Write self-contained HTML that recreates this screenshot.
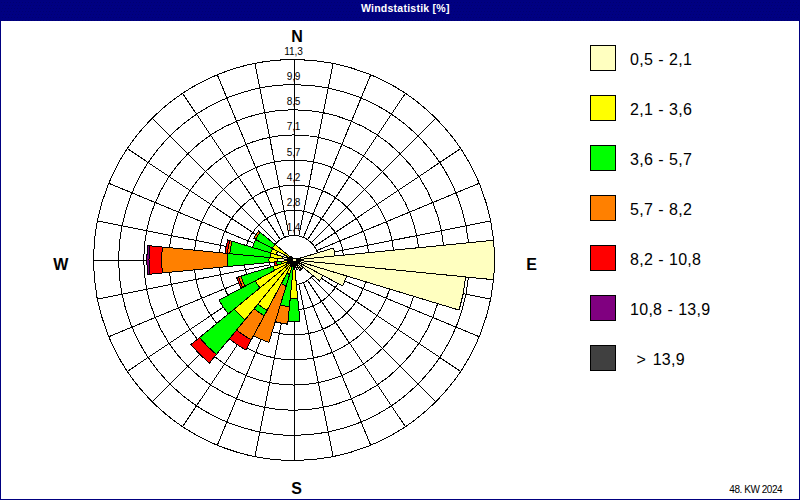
<!DOCTYPE html>
<html><head><meta charset="utf-8"><title>Windstatistik [%]</title>
<style>
html,body{margin:0;padding:0;background:#fff;}
body{width:800px;height:500px;overflow:hidden;}
svg{display:block;font-family:"Liberation Sans",sans-serif;}
.t10{font-size:10.1px;fill:#000;letter-spacing:-0.1px;}
.dir{font-size:16px;font-weight:bold;fill:#000;}
.leg{font-size:16px;fill:#000;letter-spacing:0.25px;word-spacing:0.5px;}
</style></head><body>
<svg width="800" height="500" viewBox="0 0 800 500">
<rect x="0" y="0" width="800" height="500" fill="#fff"/>
<defs><pattern id="dz" width="3" height="9" patternUnits="userSpaceOnUse"><rect width="3" height="9" fill="#000082"/><rect x="1" y="2" width="1" height="1" fill="#000070"/><rect x="0" y="5" width="1" height="1" fill="#000070"/><rect x="2" y="8" width="1" height="1" fill="#000070"/></pattern></defs>
<rect x="0" y="0" width="800" height="21" fill="url(#dz)" shape-rendering="crispEdges"/>
<rect x="0.5" y="0.5" width="799" height="499" fill="none" stroke="#000080" stroke-width="1"/>
<text x="405.3" y="11.8" text-anchor="middle" font-size="10.5" font-weight="bold" fill="#fff" letter-spacing="0.25">Windstatistik [%]</text>
<g shape-rendering="crispEdges">
<g fill="none" stroke="#000" stroke-width="1">
<circle cx="294" cy="260" r="24.50"/>
<circle cx="294" cy="260" r="49.64"/>
<circle cx="294" cy="260" r="74.78"/>
<circle cx="294" cy="260" r="99.92"/>
<circle cx="294" cy="260" r="125.06"/>
<circle cx="294" cy="260" r="150.20"/>
<circle cx="294" cy="260" r="175.34"/>
<circle cx="294" cy="260" r="200.48"/>
<path d="M294.0,235.5 L294.0,59.5 M298.8,236.0 L333.1,63.4 M303.4,237.4 L370.7,74.8 M307.6,239.6 L405.4,93.3 M311.3,242.7 L435.8,118.2 M314.4,246.4 L460.7,148.6 M316.6,250.6 L479.2,183.3 M318.0,255.2 L490.6,220.9 M318.5,260.0 L494.5,260.0 M318.0,264.8 L490.6,299.1 M316.6,269.4 L479.2,336.7 M314.4,273.6 L460.7,371.4 M311.3,277.3 L435.8,401.8 M307.6,280.4 L405.4,426.7 M303.4,282.6 L370.7,445.2 M298.8,284.0 L333.1,456.6 M294.0,284.5 L294.0,460.5 M289.2,284.0 L254.9,456.6 M284.6,282.6 L217.3,445.2 M280.4,280.4 L182.6,426.7 M276.7,277.3 L152.2,401.8 M273.6,273.6 L127.3,371.4 M271.4,269.4 L108.8,336.7 M270.0,264.8 L97.4,299.1 M269.5,260.0 L93.5,260.0 M270.0,255.2 L97.4,220.9 M271.4,250.6 L108.8,183.3 M273.6,246.4 L127.3,148.6 M276.7,242.7 L152.2,118.2 M280.4,239.6 L182.6,93.3 M284.6,237.4 L217.3,74.8 M289.2,236.0 L254.9,63.4"/>
</g>
<g stroke="#000" stroke-width="1" stroke-linejoin="miter">
<path fill="#FFFFC0" d="M294.0,260.0 L297.5,258.1 A4 4 0 0 1 297.8,258.8 Z"/>
<path fill="#FFFFC0" d="M294.0,260.0 L333.6,248.0 A41.4 41.4 0 0 1 335.2,255.9 Z"/>
<path fill="#FFFFC0" d="M294.0,260.0 L493.5,240.3 A200.5 200.5 0 0 1 493.5,279.7 Z"/>
<path fill="#FFFFC0" d="M294.0,260.0 L465.7,276.9 A172.5 172.5 0 0 1 459.1,310.1 Z"/>
<path fill="#FFFFC0" d="M294.0,260.0 L346.6,276.0 A55 55 0 0 1 342.5,285.9 Z"/>
<path fill="#FFFFC0" d="M294.0,260.0 L323.1,275.6 A33 33 0 0 1 319.5,280.9 Z"/>
<path fill="#FFFFC0" d="M294.0,260.0 L303.3,267.6 A12 12 0 0 1 301.6,269.3 Z"/>
<path fill="#FFFFC0" d="M294.0,260.0 L301.6,269.3 A12 12 0 0 1 299.7,270.6 Z"/>
<path fill="#FFFFC0" d="M294.0,260.0 L298.7,268.8 A10 10 0 0 1 296.9,269.6 Z"/>
<path fill="#FFFFC0" d="M294.0,260.0 L296.3,267.7 A8 8 0 0 1 294.8,268.0 Z"/>
<path fill="#FFFFC0" d="M294.0,260.0 L294.9,269.0 A9 9 0 0 1 293.1,269.0 Z"/>
<path fill="#FFFF00" d="M294.9,269.0 L297.8,298.8 A39 39 0 0 1 290.2,298.8 L293.1,269.0 A9 9 0 0 0 294.9,269.0 Z"/>
<path fill="#00FF00" d="M297.8,298.8 L300.0,321.0 A61.3 61.3 0 0 1 288.0,321.0 L290.2,298.8 A39 39 0 0 0 297.8,298.8 Z"/>
<path fill="#FFFFC0" d="M294.0,260.0 L293.4,266.0 A6 6 0 0 1 292.3,265.7 Z"/>
<path fill="#00FF00" d="M293.4,266.0 L289.4,306.6 A46.8 46.8 0 0 1 280.4,304.8 L292.3,265.7 A6 6 0 0 0 293.4,266.0 Z"/>
<path fill="#FF8000" d="M289.4,306.6 L287.7,324.2 A64.5 64.5 0 0 1 275.3,321.7 L280.4,304.8 A46.8 46.8 0 0 0 289.4,306.6 Z"/>
<path fill="#FFFFC0" d="M294.0,260.0 L292.5,264.8 A5 5 0 0 1 291.6,264.4 Z"/>
<path fill="#FFFF00" d="M292.5,264.8 L289.6,274.4 A15 15 0 0 1 286.9,273.2 L291.6,264.4 A5 5 0 0 0 292.5,264.8 Z"/>
<path fill="#00FF00" d="M289.6,274.4 L286.2,285.8 A27 27 0 0 1 281.3,283.8 L286.9,273.2 A15 15 0 0 0 289.6,274.4 Z"/>
<path fill="#FF8000" d="M286.2,285.8 L269.0,342.3 A86 86 0 0 1 253.5,335.8 L281.3,283.8 A27 27 0 0 0 286.2,285.8 Z"/>
<path fill="#FFFFC0" d="M294.0,260.0 L291.6,264.4 A5 5 0 0 1 290.8,263.9 Z"/>
<path fill="#FFFF00" d="M291.6,264.4 L267.1,310.3 A57 57 0 0 1 257.8,304.1 L290.8,263.9 A5 5 0 0 0 291.6,264.4 Z"/>
<path fill="#00FF00" d="M267.1,310.3 L264.3,315.6 A63 63 0 0 1 254.0,308.7 L257.8,304.1 A57 57 0 0 0 267.1,310.3 Z"/>
<path fill="#FF8000" d="M264.3,315.6 L251.3,339.8 A90.5 90.5 0 0 1 236.6,330.0 L254.0,308.7 A63 63 0 0 0 264.3,315.6 Z"/>
<path fill="#FF0000" d="M251.3,339.8 L245.9,350.0 A102 102 0 0 1 229.3,338.8 L236.6,330.0 A90.5 90.5 0 0 0 251.3,339.8 Z"/>
<path fill="#FFFFC0" d="M294.0,260.0 L290.8,263.9 A5 5 0 0 1 290.1,263.2 Z"/>
<path fill="#FFFF00" d="M290.8,263.9 L245.0,319.8 A77.3 77.3 0 0 1 234.2,309.0 L290.1,263.2 A5 5 0 0 0 290.8,263.9 Z"/>
<path fill="#00FF00" d="M245.0,319.8 L216.4,354.5 A122.3 122.3 0 0 1 199.5,337.6 L234.2,309.0 A77.3 77.3 0 0 0 245.0,319.8 Z"/>
<path fill="#FF0000" d="M216.4,354.5 L209.4,363.1 A133.4 133.4 0 0 1 190.9,344.6 L199.5,337.6 A122.3 122.3 0 0 0 216.4,354.5 Z"/>
<path fill="#FFFFC0" d="M294.0,260.0 L290.1,263.2 A5 5 0 0 1 289.6,262.4 Z"/>
<path fill="#FFFF00" d="M290.1,263.2 L260.0,287.9 A44 44 0 0 1 255.2,280.7 L289.6,262.4 A5 5 0 0 0 290.1,263.2 Z"/>
<path fill="#00FF00" d="M260.0,287.9 L228.3,313.9 A85 85 0 0 1 219.0,300.1 L255.2,280.7 A44 44 0 0 0 260.0,287.9 Z"/>
<path fill="#FFFFC0" d="M294.0,260.0 L289.6,262.4 A5 5 0 0 1 289.2,261.5 Z"/>
<path fill="#FFFF00" d="M289.6,262.4 L274.6,270.4 A22 22 0 0 1 272.9,266.4 L289.2,261.5 A5 5 0 0 0 289.6,262.4 Z"/>
<path fill="#00FF00" d="M274.6,270.4 L245.1,286.2 A55.5 55.5 0 0 1 240.9,276.1 L272.9,266.4 A22 22 0 0 0 274.6,270.4 Z"/>
<path fill="#FF8000" d="M245.1,286.2 L242.8,287.3 A58 58 0 0 1 238.5,276.8 L240.9,276.1 A55.5 55.5 0 0 0 245.1,286.2 Z"/>
<path fill="#FF0000" d="M242.8,287.3 L241.1,288.3 A60 60 0 0 1 236.6,277.4 L238.5,276.8 A58 58 0 0 0 242.8,287.3 Z"/>
<path fill="#FFFFC0" d="M294.0,260.0 L288.3,261.7 A6 6 0 0 1 288.0,260.6 Z"/>
<path fill="#FFFF00" d="M288.3,261.7 L281.6,263.8 A13 13 0 0 1 281.1,261.3 L288.0,260.6 A6 6 0 0 0 288.3,261.7 Z"/>
<path fill="#00FF00" d="M281.6,263.8 L277.3,265.1 A17.5 17.5 0 0 1 276.6,261.7 L281.1,261.3 A13 13 0 0 0 281.6,263.8 Z"/>
<path fill="#FF0000" d="M277.3,265.1 L274.9,265.8 A20 20 0 0 1 274.1,262.0 L276.6,261.7 A17.5 17.5 0 0 0 277.3,265.1 Z"/>
<path fill="#FFFFC0" d="M294.0,260.0 L277.1,261.7 A17 17 0 0 1 277.1,258.3 Z"/>
<path fill="#FFFF00" d="M277.1,261.7 L269.1,262.5 A25 25 0 0 1 269.1,257.5 L277.1,258.3 A17 17 0 0 0 277.1,261.7 Z"/>
<path fill="#00FF00" d="M269.1,262.5 L227.4,266.6 A66.9 66.9 0 0 1 227.4,253.4 L269.1,257.5 A25 25 0 0 0 269.1,262.5 Z"/>
<path fill="#FF8000" d="M227.4,266.6 L162.4,273.0 A132.2 132.2 0 0 1 162.4,247.0 L227.4,253.4 A66.9 66.9 0 0 0 227.4,266.6 Z"/>
<path fill="#FF0000" d="M162.4,273.0 L149.7,274.2 A145 145 0 0 1 149.7,245.8 L162.4,247.0 A132.2 132.2 0 0 0 162.4,273.0 Z"/>
<path fill="#800080" d="M149.7,274.2 L147.6,274.4 A147.1 147.1 0 0 1 147.6,245.6 L149.7,245.8 A145 145 0 0 0 149.7,274.2 Z"/>
<path fill="#FFFFC0" d="M294.0,260.0 L282.1,258.8 A12 12 0 0 1 282.5,256.5 Z"/>
<path fill="#FFFF00" d="M282.1,258.8 L270.1,257.6 A24 24 0 0 1 271.0,253.0 L282.5,256.5 A12 12 0 0 0 282.1,258.8 Z"/>
<path fill="#00FF00" d="M270.1,257.6 L229.8,253.7 A64.5 64.5 0 0 1 232.3,241.3 L271.0,253.0 A24 24 0 0 0 270.1,257.6 Z"/>
<path fill="#FF8000" d="M229.8,253.7 L227.3,253.4 A67 67 0 0 1 229.9,240.6 L232.3,241.3 A64.5 64.5 0 0 0 229.8,253.7 Z"/>
<path fill="#FF0000" d="M227.3,253.4 L225.0,253.2 A69.3 69.3 0 0 1 227.7,239.9 L229.9,240.6 A67 67 0 0 0 227.3,253.4 Z"/>
<path fill="#FFFFC0" d="M294.0,260.0 L276.2,254.6 A18.6 18.6 0 0 1 277.6,251.2 Z"/>
<path fill="#FFFF00" d="M276.2,254.6 L270.7,252.9 A24.3 24.3 0 0 1 272.6,248.5 L277.6,251.2 A18.6 18.6 0 0 0 276.2,254.6 Z"/>
<path fill="#00FF00" d="M270.7,252.9 L252.4,247.4 A43.5 43.5 0 0 1 255.6,239.5 L272.6,248.5 A24.3 24.3 0 0 0 270.7,252.9 Z"/>
<path fill="#FFFFC0" d="M294.0,260.0 L288.7,257.2 A6 6 0 0 1 289.4,256.2 Z"/>
<path fill="#FFFF00" d="M288.7,257.2 L272.3,248.4 A24.6 24.6 0 0 1 275.0,244.4 L289.4,256.2 A6 6 0 0 0 288.7,257.2 Z"/>
<path fill="#00FF00" d="M272.3,248.4 L255.5,239.4 A43.7 43.7 0 0 1 260.2,232.3 L275.0,244.4 A24.6 24.6 0 0 0 272.3,248.4 Z"/>
<path fill="#FF8000" d="M255.5,239.4 L253.7,238.5 A45.7 45.7 0 0 1 258.7,231.0 L260.2,232.3 A43.7 43.7 0 0 0 255.5,239.4 Z"/>
<path fill="#FFFFC0" d="M294.0,260.0 L290.9,257.5 A4 4 0 0 1 291.5,256.9 Z"/>
<circle cx="294.5" cy="260" r="2" fill="#FFFFC0"/>
</g>
</g>
<g class="t10">
<text x="293.5" y="231.0" text-anchor="middle">1,4</text>
<text x="293.5" y="205.9" text-anchor="middle">2,8</text>
<text x="293.5" y="180.7" text-anchor="middle">4,2</text>
<text x="293.5" y="155.6" text-anchor="middle">5,7</text>
<text x="293.5" y="130.4" text-anchor="middle">7,1</text>
<text x="293.5" y="105.3" text-anchor="middle">8,5</text>
<text x="293.5" y="80.2" text-anchor="middle">9,9</text>
<text x="293.5" y="55.0" text-anchor="middle">11,3</text>
<text x="782.2" y="493" text-anchor="end" font-size="10" letter-spacing="-0.45">48. KW 2024</text>
</g>
<g class="dir" text-anchor="middle">
<text x="297" y="42">N</text>
<text x="296.5" y="493.5">S</text>
<text x="60.7" y="270">W</text>
<text x="531.5" y="270">E</text>
</g>
<g class="leg" shape-rendering="crispEdges">
<rect x="590.5" y="45.5" width="25" height="25" fill="#FFFFC0" stroke="#000" stroke-width="1"/>
<text x="630.1" y="65" xml:space="preserve">0,5 - 2,1</text>
<rect x="590.5" y="95.5" width="25" height="25" fill="#FFFF00" stroke="#000" stroke-width="1"/>
<text x="630.1" y="115" xml:space="preserve">2,1 - 3,6</text>
<rect x="590.5" y="145.5" width="25" height="25" fill="#00FF00" stroke="#000" stroke-width="1"/>
<text x="630.1" y="165" xml:space="preserve">3,6 - 5,7</text>
<rect x="590.5" y="195.5" width="25" height="25" fill="#FF8000" stroke="#000" stroke-width="1"/>
<text x="630.1" y="215" xml:space="preserve">5,7 - 8,2</text>
<rect x="590.5" y="245.5" width="25" height="25" fill="#FF0000" stroke="#000" stroke-width="1"/>
<text x="630.1" y="265" xml:space="preserve">8,2 - 10,8</text>
<rect x="590.5" y="295.5" width="25" height="25" fill="#800080" stroke="#000" stroke-width="1"/>
<text x="630.1" y="315" xml:space="preserve">10,8 - 13,9</text>
<rect x="590.5" y="345.5" width="25" height="25" fill="#404040" stroke="#000" stroke-width="1"/>
<text x="630.1" y="365" xml:space="preserve" style="word-spacing:1.8px"> > 13,9</text>
</g>
</svg>
</body></html>
